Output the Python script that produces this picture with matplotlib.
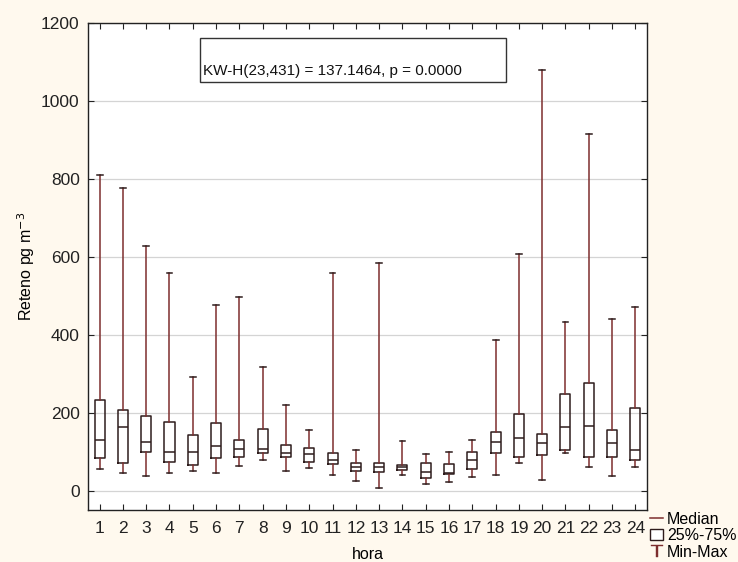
import matplotlib.pyplot as plt
from matplotlib.lines import Line2D
from matplotlib.patches import Rectangle

plt.rcParams['font.family'] = ['Liberation Sans', 'DejaVu Sans']

# Reteno per hour: min, Q1, median, Q3, max
horas = list(range(1, 25))
mins = [54, 44, 38, 44, 50, 44, 62, 78, 50, 58, 40, 24,
        6, 40, 18, 21, 34, 40, 71, 28, 97, 60, 38, 60]
q1 = [84, 71, 99, 74, 65, 84, 87, 96, 87, 74, 68, 50,
      47, 53, 31, 43, 56, 96, 86, 92, 103, 86, 85, 78]
medians = [131, 162, 125, 100, 100, 115, 107, 107, 96, 94, 79, 60,
           60, 60, 47, 45, 79, 125, 134, 121, 162, 165, 121, 103]
q3 = [232, 207, 192, 177, 143, 174, 131, 158, 118, 109, 96, 71,
      71, 65, 71, 68, 99, 150, 196, 146, 248, 276, 156, 211]
maxs = [810, 776, 628, 559, 292, 475, 497, 317, 220, 156, 558, 103,
        585, 128, 93, 100, 131, 387, 606, 1080, 432, 915, 440, 472]

stat_text = 'KW-H(23,431) = 137.1464, p = 0.0000'

bg = '#fff9ee'
box_col = '#2e1c1c'
whisk_col = '#7d2e2e'

fig = plt.figure(figsize=(7.38, 5.62), dpi=100, facecolor=bg)
ax = fig.add_axes([0.1192, 0.0925, 0.7575, 0.8665])
ax.set_facecolor('white')

stats = []
for h, lo, a, m, b, hi in zip(horas, mins, q1, medians, q3, maxs):
    stats.append({'label': str(h), 'whislo': lo, 'q1': a, 'med': m,
                  'q3': b, 'whishi': hi, 'fliers': []})

ax.bxp(stats, positions=horas, widths=0.43, showfliers=False,
       boxprops=dict(color=box_col, linewidth=1.1),
       medianprops=dict(color=box_col, linewidth=1.1),
       whiskerprops=dict(color=whisk_col, linewidth=1.1),
       capprops=dict(color=box_col, linewidth=1.1), capwidths=0.25)

ax.set_xlim(0.5, 24.5)
ax.set_ylim(-50, 1200)
ax.set_yticks(range(0, 1201, 200))
ax.set_xticks(horas)
ax.set_xticklabels([str(h) for h in horas])
ax.grid(axis='y', color='#d4d4d4', linewidth=0.9)
ax.set_axisbelow(True)
ax.tick_params(direction='in', top=True, right=True, length=4,
               labelsize=12.5, color='#222222', labelcolor='#222222')
ax.tick_params(axis='x', pad=8)
ax.tick_params(axis='y', pad=6)
for s in ax.spines.values():
    s.set_color('#222222')
    s.set_linewidth(1.0)

ax.set_xlabel('hora', fontsize=11.5, labelpad=8)
ax.set_ylabel('Reteno pg m$^{-3}$', fontsize=11.5, labelpad=3)

# statistic box
ax.add_patch(Rectangle((0.2004, 0.879), 0.5476, 0.09, transform=ax.transAxes,
                       facecolor='white', edgecolor='#333333', linewidth=1.0))
ax.text(0.2057, 0.893, stat_text, transform=ax.transAxes, fontsize=11,
        va='baseline', ha='left', color='#111111')

# legend outside bottom-right
handles = [Line2D([], [], color=whisk_col, linewidth=1.1),
           Rectangle((0, 0), 1, 1, facecolor='white', edgecolor=box_col),
           Line2D([], [], color=whisk_col, marker=r'$\top$', linestyle='none',
                  markersize=9, markeredgewidth=0.3)]
fig.legend(handles, ['Median', '25%-75%', 'Min-Max'],
           loc='lower left', bbox_to_anchor=(0.877, -0.002), frameon=False,
           fontsize=11.5, handlelength=0.8, handletextpad=0.25,
           labelspacing=0.1, borderaxespad=0, borderpad=0.2)

fig.savefig('out.png', dpi=100, facecolor=bg)
